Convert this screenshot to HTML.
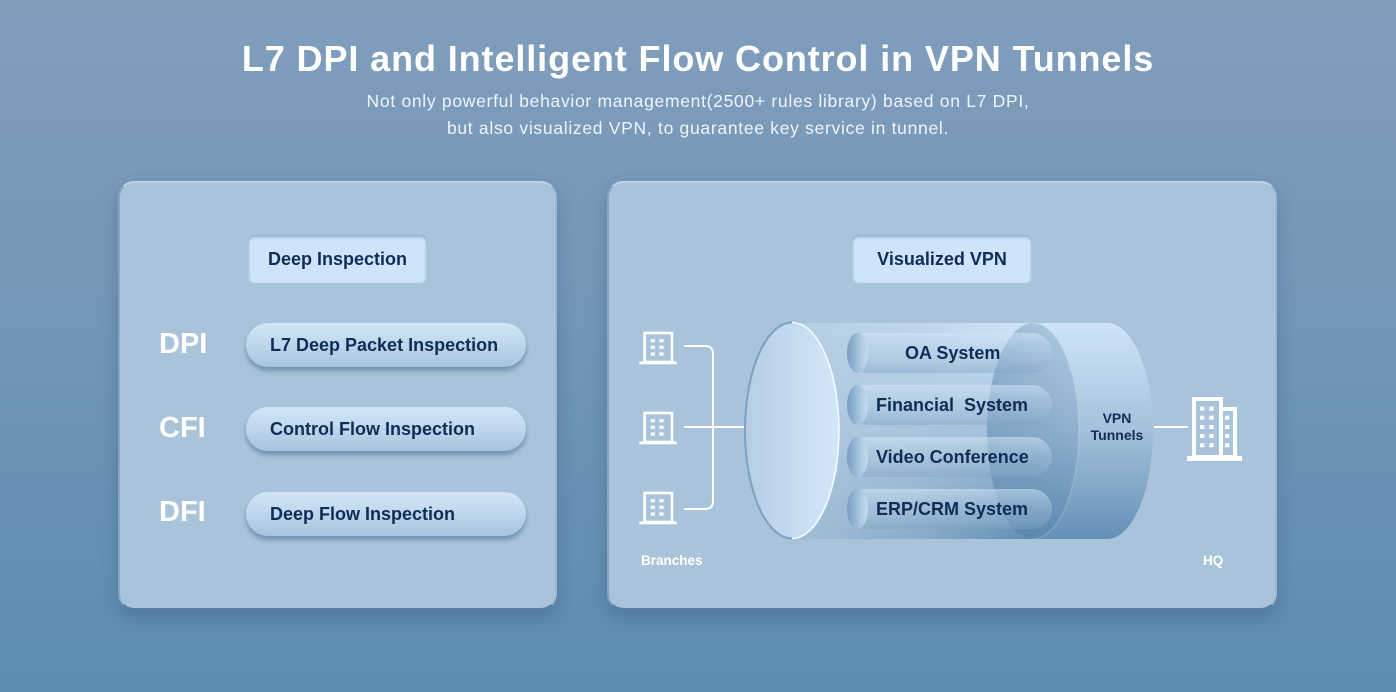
<!DOCTYPE html>
<html><head><meta charset="utf-8">
<style>
html,body{margin:0;padding:0}
body{width:1396px;height:692px;overflow:hidden;position:relative;background:linear-gradient(180deg,#809dbc 0%,#7798b9 35%,#6791b4 70%,#5c8db1 100%);font-family:"Liberation Sans",Arial,sans-serif}
.title{position:absolute;left:0;top:40.5px;width:1396px;text-align:center;color:#fff;font-weight:bold;font-size:36px;letter-spacing:0.9px;line-height:36px;white-space:nowrap}
.sub{position:absolute;left:0;top:88.4px;width:1396px;text-align:center;color:#eef4fa;font-size:17.5px;letter-spacing:0.7px;line-height:27px;white-space:nowrap}
.panel{position:absolute;background:#a9c4da;border-radius:16px;border:2px solid;border-color:#bcd2e6 #9ab8d2 #5580a5 #86a7c4;box-shadow:0 8px 16px rgba(40,70,105,0.30);box-sizing:border-box}
.hdr{position:absolute;height:48px;border-radius:6px;background:#cfe4f9;box-shadow:inset 0 3px 3px -1px rgba(70,110,150,0.45),inset 2px 0 2px -1px rgba(70,110,150,0.25),inset -2px 0 2px -1px rgba(70,110,150,0.25);text-align:center;line-height:48px;font-weight:bold;font-size:18px;color:#0f2d56}
.pill{position:absolute;left:246px;width:280px;height:44px;border-radius:22px;background:linear-gradient(180deg,#d2e6f8 0%,#bed6ec 50%,#a7c3dd 100%);box-shadow:0 4px 5px rgba(60,100,140,0.5);line-height:44px;font-weight:bold;font-size:18px;color:#0f2d56;padding-left:24px;box-sizing:border-box;white-space:nowrap}
.lab{position:absolute;left:159px;font-weight:bold;font-size:29px;color:#fff;line-height:40px}
svg{position:absolute;left:0;top:0}
</style></head><body>
<div class="title">L7 DPI and Intelligent Flow Control in VPN Tunnels</div>
<div class="sub">Not only powerful behavior management(2500+ rules library) based on L7 DPI,<br>but also visualized VPN, to guarantee key service in tunnel.</div>

<div class="panel" style="left:118px;top:181px;width:439px;height:429px"></div>
<div class="panel" style="left:607px;top:181px;width:670px;height:429px"></div>

<div class="hdr" style="left:248px;top:235px;width:179px">Deep Inspection</div>
<div class="hdr" style="left:852px;top:235px;width:180px">Visualized VPN</div>

<div class="lab" style="top:324px">DPI</div>
<div class="lab" style="top:408px">CFI</div>
<div class="lab" style="top:492px">DFI</div>

<div class="pill" style="top:323px">L7 Deep Packet Inspection</div>
<div class="pill" style="top:407px">Control Flow Inspection</div>
<div class="pill" style="top:492px">Deep Flow Inspection</div>

<svg width="1396" height="692" viewBox="0 0 1396 692" xmlns="http://www.w3.org/2000/svg">
<defs>
  <linearGradient id="bodyV" x1="0" y1="0" x2="0" y2="1">
    <stop offset="0" stop-color="#cfe4f8"/>
    <stop offset="0.5" stop-color="#a3c1db"/>
    <stop offset="1" stop-color="#6390b5"/>
  </linearGradient>
  <linearGradient id="fadeH" x1="0" y1="0" x2="1" y2="0">
    <stop offset="0" stop-color="#b0c9df" stop-opacity="0.82"/>
    <stop offset="0.55" stop-color="#b0c9df" stop-opacity="0.5"/>
    <stop offset="1" stop-color="#b0c9df" stop-opacity="0"/>
  </linearGradient>
  <linearGradient id="backE" x1="0" y1="0" x2="1" y2="0">
    <stop offset="0" stop-color="#4a77a2" stop-opacity="0.42"/>
    <stop offset="1" stop-color="#4a77a2" stop-opacity="0.22"/>
  </linearGradient>
  <linearGradient id="pillG" x1="0" y1="0" x2="0" y2="1">
    <stop offset="0" stop-color="#d4e7f8" stop-opacity="0.55"/>
    <stop offset="0.5" stop-color="#b4cee5" stop-opacity="0.35"/>
    <stop offset="1" stop-color="#7fa3c4" stop-opacity="0.45"/>
  </linearGradient>
  <linearGradient id="capG" x1="0" y1="0" x2="1" y2="0">
    <stop offset="0" stop-color="#769fc2"/>
    <stop offset="1" stop-color="#c6dcf0"/>
  </linearGradient>
  <linearGradient id="frontG" x1="0" y1="0" x2="1" y2="0">
    <stop offset="0" stop-color="#b4cde4"/>
    <stop offset="1" stop-color="#d4e7f8"/>
  </linearGradient>
  <clipPath id="bodyClip"><path d="M792,323 H1107 A46,108 0 0 1 1107,539 H792 Z"/></clipPath>
</defs>

<!-- connectors -->
<g fill="none" stroke="#fff" stroke-width="2">
  <path d="M684,346 H705 Q713,346 713,354 V501 Q713,509 705,509 H684"/>
  <path d="M684,427 H746"/>
  <path d="M1154,427 H1188"/>
</g>

<!-- branch icons -->
<g id="br1">
  <rect x="644.6" y="333" width="27.4" height="29" fill="none" stroke="#fff" stroke-width="2.6"/>
  <rect x="639.3" y="361.4" width="37.4" height="2.9" fill="#fff"/>
  <g fill="#fff">
    <rect x="650.8" y="339" width="4.2" height="3.3"/><rect x="659.3" y="339" width="4.2" height="3.3"/>
    <rect x="650.8" y="345.7" width="4.2" height="3.3"/><rect x="659.3" y="345.7" width="4.2" height="3.3"/>
    <rect x="650.8" y="352.4" width="4.2" height="3.3"/><rect x="659.3" y="352.4" width="4.2" height="3.3"/>
  </g>
</g>
<use href="#br1" transform="translate(0,80)"/>
<use href="#br1" transform="translate(0,160)"/>

<!-- cylinder body -->
<path d="M792,323 H1107 A46,108 0 0 1 1107,539 H792 Z" fill="url(#bodyV)"/>
<rect x="792" y="323" width="230" height="216" fill="url(#fadeH)" clip-path="url(#bodyClip)"/>
<!-- back ellipse -->
<ellipse cx="1033" cy="431" rx="46" ry="108" fill="url(#backE)"/>
<path d="M1033,323 A46,108 0 0 1 1033,539" fill="none" stroke="#d6e8f8" stroke-opacity="0.18" stroke-width="2"/>

<!-- inner pills -->
<g>
  <rect x="847" y="333" width="205" height="40" rx="20" fill="url(#pillG)"/>
  <rect x="847" y="385" width="205" height="40" rx="20" fill="url(#pillG)"/>
  <rect x="847" y="437" width="205" height="40" rx="20" fill="url(#pillG)"/>
  <rect x="847" y="489" width="205" height="40" rx="20" fill="url(#pillG)"/>
  <ellipse cx="857.5" cy="353" rx="10.5" ry="20" fill="url(#capG)"/>
  <ellipse cx="857.5" cy="405" rx="10.5" ry="20" fill="url(#capG)"/>
  <ellipse cx="857.5" cy="457" rx="10.5" ry="20" fill="url(#capG)"/>
  <ellipse cx="857.5" cy="509" rx="10.5" ry="20" fill="url(#capG)"/>
</g>
<g font-family="Liberation Sans, Arial, sans-serif" font-weight="bold" font-size="18" fill="#0f2d56">
  <text x="905" y="359">OA System</text>
  <text x="876" y="411" xml:space="preserve">Financial  System</text>
  <text x="876" y="463">Video Conference</text>
  <text x="876" y="515">ERP/CRM System</text>
</g>
<g font-family="Liberation Sans, Arial, sans-serif" font-weight="bold" font-size="14" fill="#0f2d56" text-anchor="middle">
  <text x="1117" y="423">VPN</text>
  <text x="1117" y="440">Tunnels</text>
</g>

<!-- front ellipse -->
<ellipse cx="792" cy="430.5" rx="47" ry="108" fill="url(#frontG)" stroke="#f4f9fd" stroke-width="1.6"/>
<path d="M792,322.5 A47,108 0 0 0 792,538.5" fill="none" stroke="#6891b6" stroke-width="2" stroke-opacity="0.85"/>

<!-- HQ building -->
<g fill="none" stroke="#fff" stroke-width="4">
  <rect x="1194" y="399" width="27" height="58"/>
  <rect x="1221" y="409" width="14" height="48"/>
</g>
<rect x="1187" y="456" width="55" height="5" fill="#fff"/>
<g fill="#fff">
  <rect x="1200" y="406.7" width="4.3" height="4"/><rect x="1209.3" y="406.7" width="4.3" height="4"/>
  <rect x="1200" y="415.7" width="4.3" height="4"/><rect x="1209.3" y="415.7" width="4.3" height="4"/>
  <rect x="1200" y="425" width="4.3" height="4"/><rect x="1209.3" y="425" width="4.3" height="4"/>
  <rect x="1200" y="434" width="4.3" height="4"/><rect x="1209.3" y="434" width="4.3" height="4"/>
  <rect x="1200" y="443.3" width="4.3" height="4"/><rect x="1209.3" y="443.3" width="4.3" height="4"/>
  <rect x="1225" y="415.7" width="4.3" height="4"/>
  <rect x="1225" y="425" width="4.3" height="4"/>
  <rect x="1225" y="434" width="4.3" height="4"/>
  <rect x="1225" y="443.3" width="4.3" height="4"/>
</g>

<g font-family="Liberation Sans, Arial, sans-serif" font-weight="bold" font-size="13.5" fill="#fff">
  <text x="641" y="565">Branches</text>
  <text x="1203" y="565">HQ</text>
</g>
</svg>
</body></html>
